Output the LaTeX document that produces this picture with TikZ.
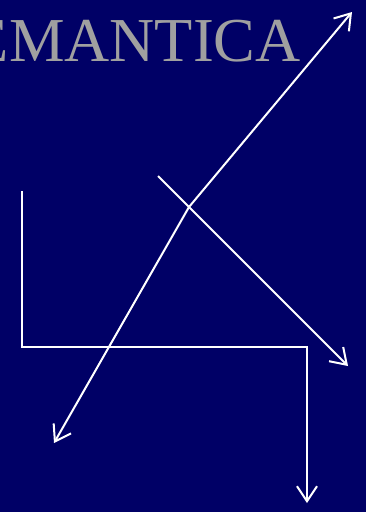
\documentclass[tikz,border=0pt]{standalone}
\usepackage{fontspec}
\setmainfont{Liberation Serif}
\usetikzlibrary{arrows.meta}
\definecolor{bgnavy}{RGB}{0,0,102}
\definecolor{titlegray}{RGB}{160,160,160}
\begin{document}
\begin{tikzpicture}[x=1pt,y=-1pt,
  wire/.style={draw=white,line width=2pt},
  arr/.style={-{Straight Barb[length=15pt,width=20pt,line width=2pt]}}]
\fill[bgnavy] (0,0) rectangle (366,512);
\useasboundingbox (0,0) rectangle (366,512);
\begin{scope}
\clip (0,0) rectangle (366,512);
\node[anchor=base east,inner sep=0pt,text=titlegray,font=\fontsize{62.5}{62.5}\selectfont] (title) at (301,61) {EMANTICA};
\end{scope}
\coordinate (s1) at (22,191);
\coordinate (c1) at (22,347);
\coordinate (c2) at (307,347);
\coordinate (e1) at (307,503);
\coordinate (j) at (189,207);
\coordinate (e2) at (352,12);
\coordinate (e3) at (54,443);
\coordinate (s4) at (158,176);
\coordinate (e4) at (348,366);
\draw[wire,arr] (s1) -- (c1) -- (c2) -- (e1);
\draw[wire,arr] (j) -- (e2);
\draw[wire,arr] (j) -- (e3);
\draw[wire,arr] (s4) -- (e4);
\end{tikzpicture}
\end{document}
